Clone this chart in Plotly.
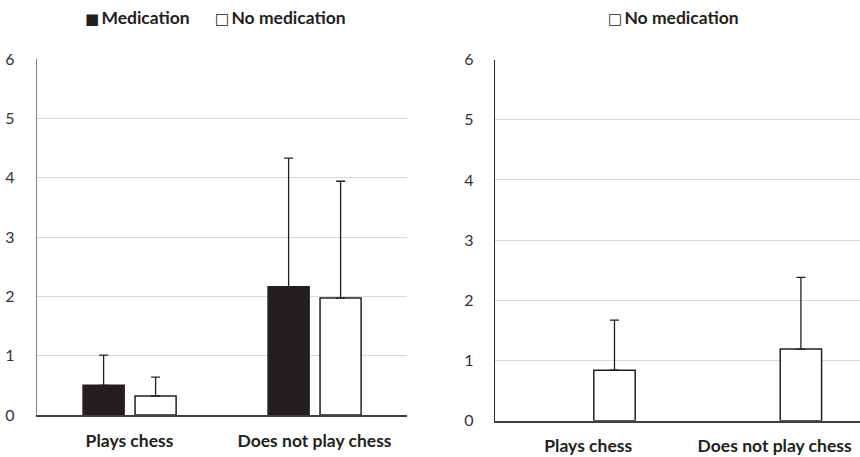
import plotly.graph_objects as go

categories = ["Plays chess", "Does not play chess"]

# left panel: both groups
med_left = [0.50, 2.16]
med_left_err = [0.51, 2.17]
nomed_left = [0.32, 1.97]
nomed_left_err = [0.32, 1.97]

# right panel: no medication only
nomed_right = [0.84, 1.19]
nomed_right_err = [0.83, 1.19]

y_ticks = [0, 1, 2, 3, 4, 5, 6]

INK = "#231f20"
GRID = "#d9d9d9"
FONT = "Lato, 'Open Sans', sans-serif"

BAR_W = 0.222
OFF_MED = -0.251
OFF_NOMED = 0.030


def err(vals):
    return dict(type="data", array=vals, arrayminus=[0] * len(vals), symmetric=False,
                visible=True, color=INK, thickness=1.3, width=4.5)


fig = go.Figure()
fig.add_trace(go.Bar(x=categories, y=med_left, error_y=err(med_left_err),
                     width=BAR_W, offset=OFF_MED,
                     marker=dict(color=INK, line=dict(color=INK, width=1.5)),
                     showlegend=False, xaxis="x", yaxis="y"))
fig.add_trace(go.Bar(x=categories, y=nomed_left, error_y=err(nomed_left_err),
                     width=BAR_W, offset=OFF_NOMED,
                     marker=dict(color="white", line=dict(color=INK, width=1.5)),
                     showlegend=False, xaxis="x", yaxis="y"))
fig.add_trace(go.Bar(x=categories, y=nomed_right, error_y=err(nomed_right_err),
                     width=BAR_W, offset=OFF_NOMED,
                     marker=dict(color="white", line=dict(color=INK, width=1.5)),
                     showlegend=False, xaxis="x2", yaxis="y2"))

common_y = dict(range=[0, 6], tickvals=y_ticks, showgrid=True, gridcolor=GRID, gridwidth=1,
                showline=True, linewidth=1.3, zeroline=False, automargin=False,
                ticks="", tickfont=dict(family=FONT, size=16, color="#333333"),
                fixedrange=True)
common_x = dict(type="category", showline=True, linecolor="#404040", linewidth=1.5,
                showgrid=False, ticks="", automargin=False,
                tickfont=dict(family=FONT, size=17.5, color=INK, weight="bold"),
                fixedrange=True)

fig.update_layout(
    width=860, height=457,
    margin=dict(l=0, r=0, t=0, b=0),
    paper_bgcolor="white", plot_bgcolor="white",
    barmode="overlay",
    showlegend=False,
    xaxis=dict(domain=[37 / 860, 407 / 860], range=[-0.5, 1.5], anchor="y",
               ticklabelstandoff=9, **common_x),
    yaxis=dict(domain=[42 / 457, 398 / 457], anchor="x", linecolor="#7f7f7f",
               ticklabelstandoff=18, **common_y),
    xaxis2=dict(domain=[495 / 860, 1.0], range=[-0.5, 1.458], anchor="y2",
                ticklabelstandoff=9, **common_x),
    yaxis2=dict(domain=[36.3 / 457, 397.5 / 457], anchor="x2", linecolor="#262626",
                ticklabelstandoff=17, **common_y),
)

# legend entries drawn as text with square glyphs; positions in pixels
SQ_FULL = "<span style='font-family:DejaVu Sans;font-size:15px'>■</span>\u2009"
SQ_OPEN = "<span style='font-family:DejaVu Sans;font-size:15px'>□</span>\u2009"
legend_items = [
    (SQ_FULL + "<b>Medication</b>", 83),
    (SQ_OPEN + "<b>No medication</b>", 213),
    (SQ_OPEN + "<b>No medication</b>", 606),
]
for text, px in legend_items:
    fig.add_annotation(text=text, x=px / 860, y=1 - 18 / 457, xref="paper", yref="paper",
                       showarrow=False, xanchor="left", yanchor="middle",
                       font=dict(family=FONT, size=17.5, color=INK))

fig.write_html("out.html")
